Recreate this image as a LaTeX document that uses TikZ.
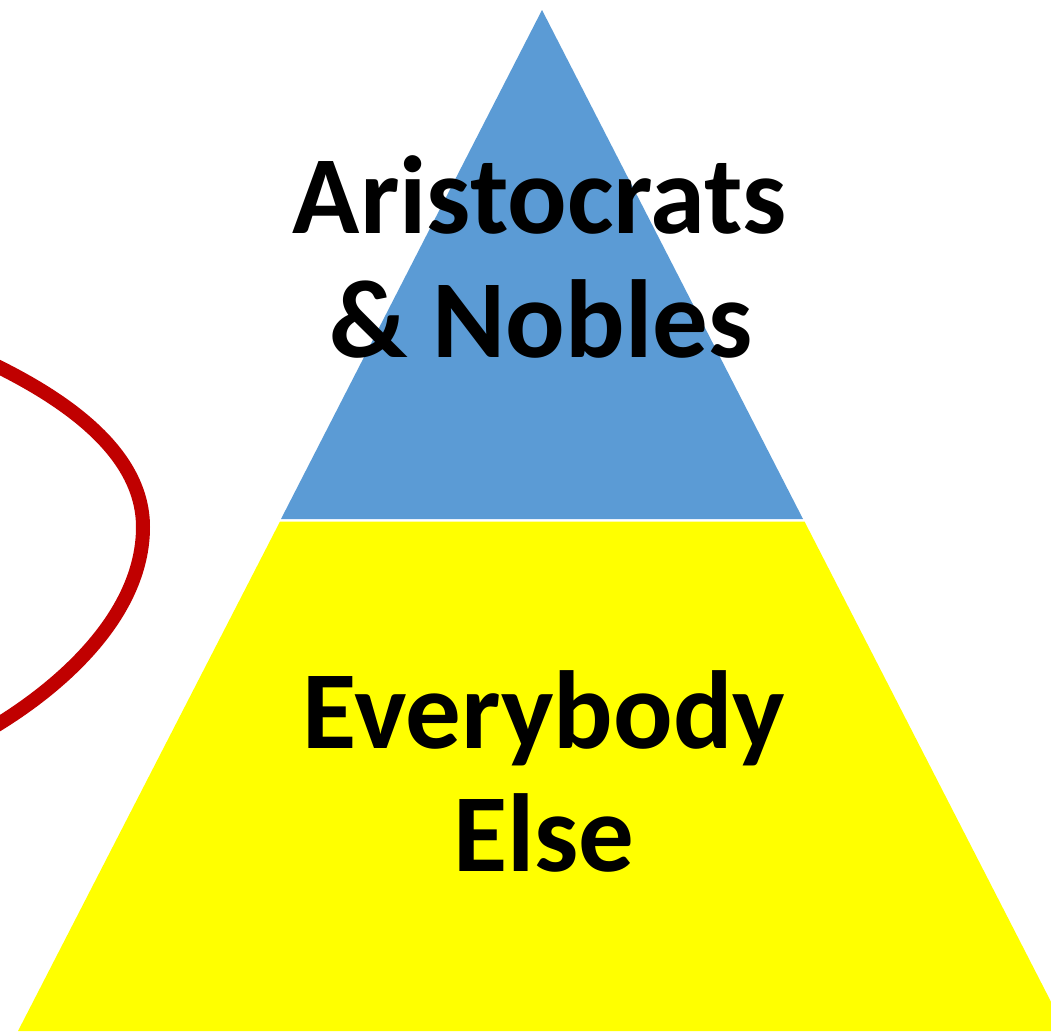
\documentclass[tikz,border=0pt]{standalone}
\usepackage{fontspec}
\setmainfont{Carlito}
\definecolor{topblue}{HTML}{5B9BD5}
\definecolor{baseyellow}{HTML}{FFFF00}
\definecolor{loopred}{HTML}{C00000}
\tikzset{
  label text/.style={font=\fontsize{111pt}{124pt}\selectfont\bfseries, text=black, inner sep=0pt, anchor=base},
}
\begin{document}
\begin{tikzpicture}[x=1pt,y=-1pt]
\useasboundingbox (0,0) rectangle (1051,1031);
\clip (0,0) rectangle (1051,1031);
\fill[white] (0,0) rectangle (1051,1031);
% apex and corner coordinates
\coordinate (apex) at (542,10);
\coordinate (bl) at (281,519);
\coordinate (br) at (803,519);
\coordinate (yl) at (280,521.5);
\coordinate (yr) at (804.5,521.5);
\coordinate (ybl) at (18,1031);
\coordinate (ybr) at (1066,1031);
\fill[topblue] (apex) -- (br) -- (bl) -- cycle;
\fill[baseyellow] (yl) -- (yr) -- (ybr) -- (ybl) -- cycle;
% red loop
\coordinate (rs) at (-20,358);
\coordinate (rm) at (143,527);
\coordinate (re) at (-20,735);
\draw[loopred, line width=14pt]
  (rs) .. controls (60,395) and (143,450) .. (rm)
       .. controls (143,615) and (60,690) .. (re);
% texts
\node[label text] (t1) at (540,233) {Aristocrats};
\node[label text] (t2) at (541,357) {\& Nobles};
\node[label text] (t3) at (544,748) {Everybody};
\node[label text] (t4) at (544,871) {Else};
\end{tikzpicture}
\end{document}
